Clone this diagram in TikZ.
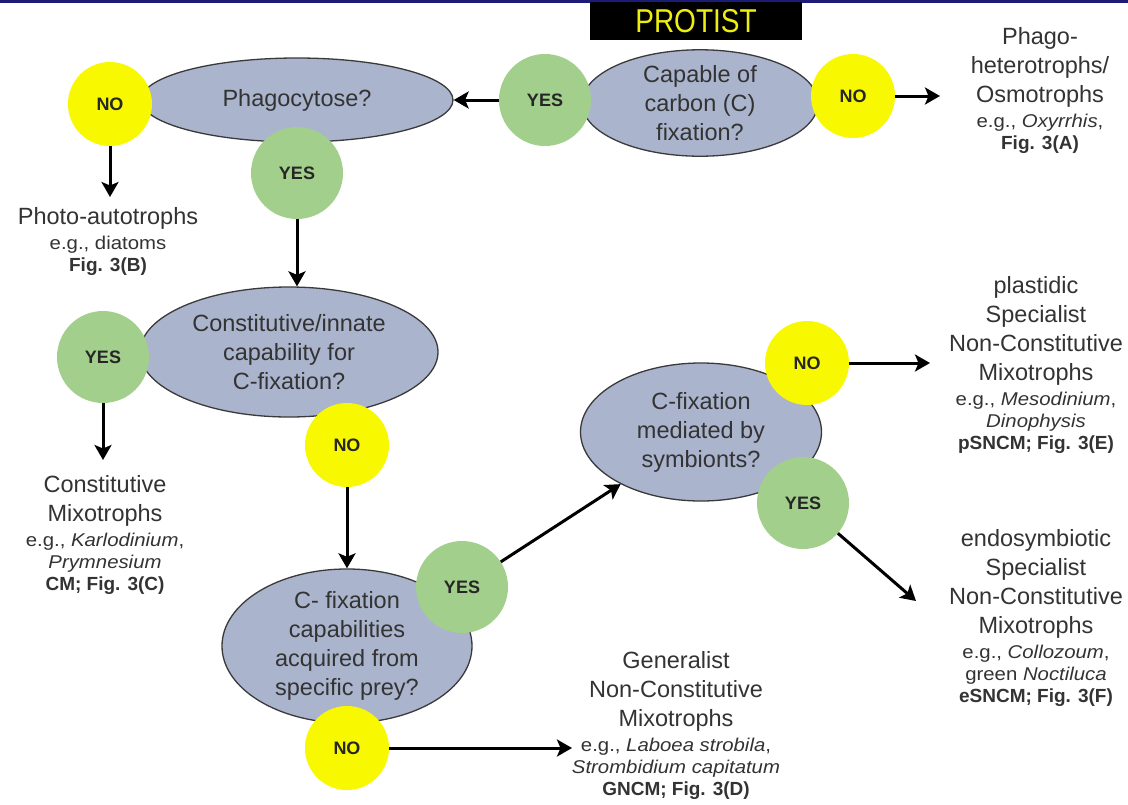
\documentclass[tikz,border=0pt]{standalone}
\usepackage{fontspec}
\setmainfont{Liberation Sans}
\newfontfamily\smfam[FakeStretch=1.1]{Liberation Sans}
\usetikzlibrary{shapes.geometric,arrows.meta}
\definecolor{ellfill}{HTML}{AAB4CD}
\definecolor{ellline}{HTML}{3A3A3A}
\definecolor{yesgreen}{HTML}{A2CF8B}
\definecolor{noyellow}{HTML}{F8F800}
\definecolor{txtgray}{HTML}{333333}
\definecolor{topnavy}{HTML}{1C1C78}
\definecolor{protyellow}{HTML}{EEEE10}
\newcommand\txtmain{\fontsize{23.5}{29}\selectfont}
\newcommand\txteg{\smfam\fontsize{18.5}{22}\selectfont}
\newcommand\txtfig{\bfseries\fontsize{19}{22}\selectfont}
\tikzset{
  ell/.style={ellipse, draw=ellline, line width=1.3pt, fill=ellfill, inner sep=0pt,
    align=center, text=txtgray, font=\txtmain},
  yesc/.style={circle, fill=yesgreen, inner sep=0pt, minimum size=92pt,
    font=\bfseries\fontsize{18}{20}\selectfont, text=black!85},
  noc/.style={circle, fill=noyellow, inner sep=0pt, minimum size=84pt,
    font=\bfseries\fontsize{18}{20}\selectfont, text=black!85},
  txt/.style={align=center, text=txtgray, font=\txtmain, inner sep=0pt},
  arr/.style={draw=black, line width=3pt, -{Stealth[length=15pt,width=17pt,inset=3.5pt]}},
}
\begin{document}
\begin{tikzpicture}[x=1pt,y=-1pt]
\useasboundingbox (0,0) rectangle (1128,804);
\fill[white] (0,0) rectangle (1128,804);
\fill[topnavy] (0,0) rectangle (1128,2.5);

% title
\node[fill=black, minimum width=212pt, minimum height=38pt, inner sep=0pt,
  text=protyellow, font=\fontsize{28}{30}\selectfont] (protist) at (696,21)
  {\scalebox{1}[1.18]{PROTIST}};

% question ellipses
\node[ell, minimum width=236pt, minimum height=106pt] (capable) at (700,103)
  {Capable of\\carbon (C)\\fixation?};
\node[ell, minimum width=312pt, minimum height=84pt] (phago) at (297,100)
  {Phagocytose?};
\node[ell, minimum width=298pt, minimum height=130pt] (constit) at (289,352)
  {Constitutive/innate\\capability for\\C-fixation?};
\node[ell, minimum width=250pt, minimum height=145pt] (prey) at (347,646)
  {C- fixation\\capabilities\\acquired from\\specific prey?};
\node[ell, minimum width=241pt, minimum height=138pt] (symb) at (701,432)
  {C-fixation\\mediated by\\symbionts?};

% answer circles
\node[yesc] (capyes) at (545,100) {YES};
\node[noc]  (capno)  at (853,96)  {NO};
\node[noc]  (phano)  at (110,104) {NO};
\node[yesc] (phayes) at (297,173) {YES};
\node[yesc] (conyes) at (103,357) {YES};
\node[noc]  (conno)  at (347,445) {NO};
\node[yesc] (preyes) at (462,587) {YES};
\node[noc]  (preno)  at (347,748) {NO};
\node[noc]  (symno)  at (807,363) {NO};
\node[yesc] (symyes) at (803,503) {YES};

% outcome texts
\node[txt] (outA) at (1040,90)
  {Phago-\\heterotrophs/\\Osmotrophs\\[-4pt]\txteg e.g., \textit{Oxyrrhis},\\[-7pt]\txtfig Fig. 3(A)};
\node[txt] (outB) at (108,241)
  {Photo-autotrophs\\[-4pt]\txteg e.g., diatoms\\[-7pt]\txtfig Fig. 3(B)};
\node[txt] (outC) at (105,535)
  {Constitutive\\Mixotrophs\\[-4pt]\txteg e.g., \textit{Karlodinium},\\[-7pt]\txteg\textit{Prymnesium}\\[-7pt]\txtfig CM; Fig. 3(C)};
\node[txt] (outD) at (676,725)
  {Generalist\\Non-Constitutive\\Mixotrophs\\[-4pt]\txteg e.g., \textit{Laboea strobila},\\[-7pt]\txteg\textit{Strombidium capitatum}\\[-7pt]\txtfig GNCM; Fig. 3(D)};
\node[txt] (outE) at (1036,365)
  {plastidic\\Specialist\\Non-Constitutive\\Mixotrophs\\[-4pt]\txteg e.g., \textit{Mesodinium},\\[-7pt]\txteg\textit{Dinophysis}\\[-7pt]\txtfig pSNCM; Fig. 3(E)};
\node[txt] (outF) at (1036,618)
  {endosymbiotic\\Specialist\\Non-Constitutive\\Mixotrophs\\[-4pt]\txteg e.g., \textit{Collozoum},\\[-7pt]\txteg green \textit{Noctiluca}\\[-7pt]\txtfig eSNCM; Fig. 3(F)};

% arrow end points
\coordinate (endA) at (940,96);
\coordinate (endB) at (110,197);
\coordinate (endC) at (103,460);
\coordinate (endD) at (572,748);
\coordinate (endE) at (930,363);
\coordinate (endF) at (916,601);

% connectors
\draw[arr] (capyes) -- (phago);
\draw[arr] (capno) -- (endA);
\draw[arr] (phano) -- (endB);
\draw[arr] (phayes) -- (phayes |- constit.north);
\draw[arr] (conyes) -- (endC);
\draw[arr] (conno) -- (prey);
\draw[arr] (preyes) -- (symb);
\draw[arr] (preno) -- (endD);
\draw[arr] (symno) -- (endE);
\draw[arr] (symyes) -- (endF);
\end{tikzpicture}
\end{document}
